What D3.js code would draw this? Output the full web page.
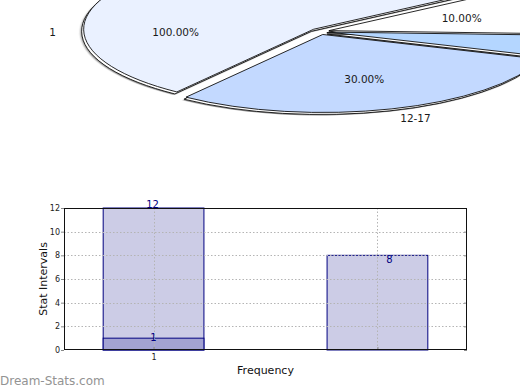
<!DOCTYPE html>
<html>
<head>
<meta charset="utf-8">
<script src="https://cdn.jsdelivr.net/npm/d3@7"></script>
<style>
  body { margin: 0; background: #fff; }
  svg { display: block; font-family: "DejaVu Sans", sans-serif; }
</style>
</head>
<body>
<div id="container"></div>
<script>
(function() {

// Pie slices, clockwise from the upper right
let sliceNames = ["", "", "12-17", "1"];
let sliceValues = [10, 4.5, 30, 55.5];
let sliceLabels = ["10.00%", "", "30.00%", "100.00%"];
let sliceColors = ["#ffffff", "#b4d6ff", "#c3d9ff", "#eaf1ff"];

// Bar chart
let barCategories = ["1", ""];
let barTotals = [12, 8];
let barInner = [1, null];
let yTicks = [0, 2, 4, 6, 8, 10, 12];

let width = 520;
let height = 390;

let svg = d3.select("#container")
  .append("svg")
    .attr("width", width)
    .attr("height", height);

svg.append("rect")
  .attr("width", width)
  .attr("height", height)
  .attr("fill", "#fff");

svg.append("defs")
  .append("filter")
    .attr("id", "blur")
    .attr("x", "-20%").attr("y", "-20%")
    .attr("width", "140%").attr("height", "140%")
  .append("feGaussianBlur")
    .attr("stdDeviation", 1.2);

buildPie();
buildBars();

svg.append("text")
  .attr("x", 0)
  .attr("y", 385)
  .attr("font-size", 12)
  .attr("fill", "#939393")
  .text("Dream-Stats.com");

function buildPie() {
  let cx = 320, cy = 31.5;
  let rx = 230, ry = 78;
  let sy = ry / rx;
  let explode = 0.04 * rx;
  let start = 56.3 * Math.PI / 180;

  let pie = d3.pie().sort(null).startAngle(start).endAngle(start + 2 * Math.PI);
  let arcs = pie(sliceValues);
  let arc = d3.arc().innerRadius(0).outerRadius(rx);

  let mid = (d) => (d.startAngle + d.endAngle) / 2;
  let shift = (d) => {
    let a = mid(d);
    return "translate(" + (Math.sin(a) * explode) + "," + (-Math.cos(a) * explode) + ")";
  };

  // blurred shadow, then an offset outline, then the slices
  let layers = [
    { dx: -3, dy: 3, fill: () => "#555", stroke: "none", filter: "url(#blur)", opacity: 0.7 },
    { dx: -2, dy: 2, fill: () => "#fff", stroke: "#111", filter: null, opacity: 1 },
    { dx: 0, dy: 0, fill: (d, i) => sliceColors[i], stroke: "#111", filter: null, opacity: 1 }
  ];

  layers.forEach((l) => {
    svg.append("g")
      .attr("transform", "translate(" + (cx + l.dx) + "," + (cy + l.dy) + ") scale(1," + sy + ")")
      .attr("opacity", l.opacity)
      .attr("filter", l.filter)
      .selectAll("path")
      .data(arcs)
      .enter()
      .append("path")
        .attr("transform", shift)
        .attr("d", arc)
        .attr("fill", l.fill)
        .attr("stroke", l.stroke)
        .attr("stroke-width", 0.9)
        .attr("vector-effect", "non-scaling-stroke");
  });

  // label position on the ellipse, from the exploded slice centre
  function labelPos(d, k) {
    let a = mid(d);
    let ox = Math.sin(a) * explode, oy = -Math.cos(a) * explode;
    let px = cx + ox + Math.sin(a) * rx * k;
    let py = cy + (oy - Math.cos(a) * rx * k) * sy;
    if (py < 8) {
      // mid angle falls above the visible area: put it on the left side
      a = 1.5 * Math.PI;
      px = cx + ox + Math.sin(a) * rx * k;
      py = cy;
    }
    return [px, py, a];
  }

  let labels = svg.append("g")
    .attr("font-size", 10.5)
    .attr("fill", "#1a1a1a")
    .attr("dominant-baseline", "central");

  labels.selectAll(".pct")
    .data(arcs)
    .enter()
    .append("text")
      .attr("text-anchor", "middle")
      .attr("x", (d) => labelPos(d, 0.6)[0])
      .attr("y", (d) => labelPos(d, 0.6)[1])
      .text((d, i) => sliceLabels[i]);

  // category names sit outside, anchored away from the pie
  labels.selectAll(".name")
    .data(arcs)
    .enter()
    .append("text")
      .attr("text-anchor", (d) => labelPos(d, 1.12)[2] > Math.PI ? "end" : "start")
      .attr("x", (d) => labelPos(d, 1.12)[0])
      .attr("y", (d) => labelPos(d, 1.12)[1])
      .text((d, i) => sliceNames[i]);
}

function buildBars() {
  let left = 64, right = 467, top = 208, bottom = 350;

  let x = d3.scalePoint()
    .domain(d3.range(barCategories.length))
    .range([left, right])
    .padding(0.4);
  let y = d3.scaleLinear()
    .domain([0, 12])
    .range([bottom, top]);
  let barW = x.step() * 0.45;

  // bars
  let g = svg.append("g");
  g.selectAll(".bar")
    .data(barTotals)
    .enter()
    .append("rect")
      .attr("x", (d, i) => x(i) - barW / 2)
      .attr("y", (d) => y(d))
      .attr("width", barW)
      .attr("height", (d) => bottom - y(d))
      .attr("fill", "#ccccE6")
      .attr("stroke", "#000080");
  g.selectAll(".inner")
    .data(barInner.filter((d) => d != null))
    .enter()
    .append("rect")
      .attr("x", (d, i) => x(i) - barW / 2)
      .attr("y", (d) => y(d))
      .attr("width", barW)
      .attr("height", (d) => bottom - y(d))
      .attr("fill", "#a3a3d2")
      .attr("stroke", "#000080");

  // dotted grid on top of the bars
  let grid = svg.append("g")
    .attr("stroke", "#b4b4b4")
    .attr("stroke-dasharray", "1.5,2");
  grid.selectAll(".h")
    .data(yTicks.slice(1, -1))
    .enter()
    .append("line")
      .attr("x1", left).attr("x2", right)
      .attr("y1", (d) => Math.round(y(d)) + 0.5)
      .attr("y2", (d) => Math.round(y(d)) + 0.5);
  grid.selectAll(".v")
    .data(barCategories)
    .enter()
    .append("line")
      .attr("x1", (d, i) => Math.round(x(i)) + 0.5)
      .attr("x2", (d, i) => Math.round(x(i)) + 0.5)
      .attr("y1", top).attr("y2", bottom);

  // axes
  svg.append("g")
    .attr("transform", "translate(" + left + ",0)")
    .call(d3.axisLeft(y).tickValues(yTicks).tickSize(3).tickPadding(1));
  svg.append("g")
    .attr("transform", "translate(" + right + ",0)")
    .call(d3.axisRight(y).tickValues(yTicks).tickSize(-3).tickFormat(""));
  svg.append("g")
    .attr("transform", "translate(0," + bottom + ")")
    .call(d3.axisBottom(x).tickSize(-3).tickPadding(4).tickFormat((i) => barCategories[i]));

  svg.selectAll(".domain").remove();
  svg.selectAll(".tick line").attr("stroke", "#888");
  svg.selectAll(".tick text")
    .attr("font-size", 8)
    .attr("font-family", "DejaVu Sans, sans-serif")
    .attr("fill", "#222");

  svg.append("rect")
    .attr("x", left + 0.5)
    .attr("y", top + 0.5)
    .attr("width", right - left - 1)
    .attr("height", bottom - top - 1)
    .attr("fill", "none")
    .attr("stroke", "#111");

  // value labels
  let vl = svg.append("g")
    .attr("font-size", 10)
    .attr("fill", "#000080")
    .attr("text-anchor", "middle");
  vl.selectAll(".tot")
    .data(barTotals)
    .enter()
    .append("text")
      .attr("x", (d, i) => d >= y.domain()[1] ? x(i) - 1 : x(i) + 12)
      .attr("y", (d) => d >= y.domain()[1] ? y(d) : y(d) + 7.5)
      .text((d) => d);
  vl.selectAll(".inn")
    .data(barInner.filter((d) => d != null))
    .enter()
    .append("text")
      .attr("x", (d, i) => x(i))
      .attr("y", (d) => y(d) + 3)
      .text((d) => d);

  // axis titles
  svg.append("text")
    .attr("x", (left + right) / 2)
    .attr("y", 374)
    .attr("text-anchor", "middle")
    .attr("font-size", 11)
    .attr("fill", "#111")
    .text("Frequency");
  svg.append("text")
    .attr("transform", "translate(47," + ((top + bottom) / 2) + ") rotate(-90)")
    .attr("text-anchor", "middle")
    .attr("font-size", 11)
    .attr("fill", "#111")
    .text("Stat Intervals");
}

})();
</script>
</body>
</html>
